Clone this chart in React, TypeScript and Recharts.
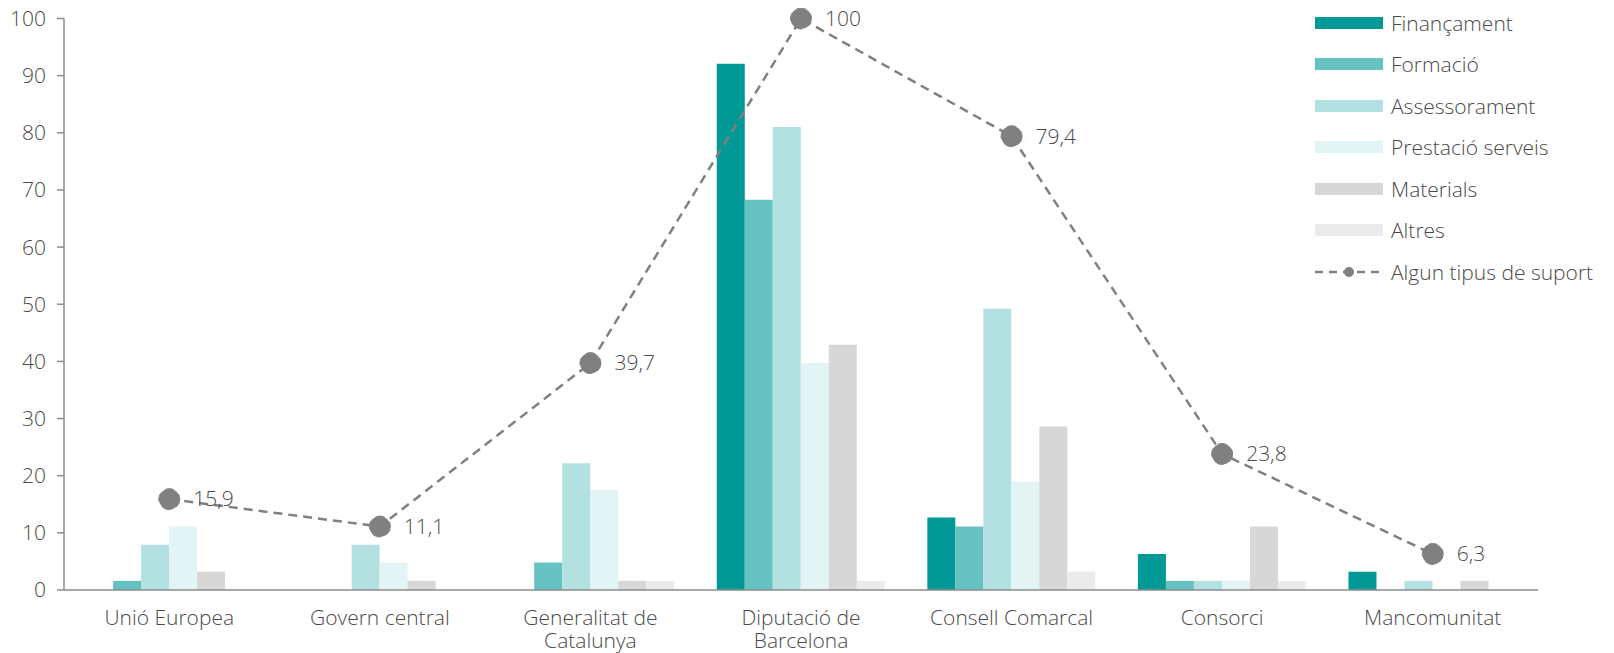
import React from "react";
import {
  ComposedChart,
  Bar,
  Line,
  XAxis,
  YAxis,
  LabelList,
} from "recharts";

const categories = [
  "Unió Europea",
  "Govern central",
  "Generalitat de Catalunya",
  "Diputació de Barcelona",
  "Consell Comarcal",
  "Consorci",
  "Mancomunitat",
];
const financament = [0, 0, 0, 92.1, 12.7, 6.3, 3.2];
const formacio = [1.6, 0, 4.8, 68.3, 11.1, 1.6, 0];
const assessorament = [7.9, 7.9, 22.2, 81.0, 49.2, 1.6, 1.6];
const prestacio = [11.1, 4.8, 17.5, 39.7, 19.0, 1.6, 0];
const materials = [3.2, 1.6, 1.6, 42.9, 28.6, 11.1, 1.6];
const altres = [0, 0, 1.6, 1.6, 3.2, 1.6, 0];
const algunTipus = [15.9, 11.1, 39.7, 100, 79.4, 23.8, 6.3];
const yTicks = [0, 10, 20, 30, 40, 50, 60, 70, 80, 90, 100];

const barSeries = [
  { key: "fin", name: "Finançament", color: "#009996", values: financament },
  { key: "form", name: "Formació", color: "#66c2c0", values: formacio },
  { key: "ass", name: "Assessorament", color: "#b3e0e0", values: assessorament },
  { key: "prest", name: "Prestació serveis", color: "#e3f4f4", values: prestacio },
  { key: "mat", name: "Materials", color: "#d7d7d7", values: materials },
  { key: "alt", name: "Altres", color: "#ebebeb", values: altres },
];
const lineName = "Algun tipus de suport";
const lineColor = "#808080";

const data = categories.map((c, i) => {
  const row: any = { cat: c, line: algunTipus[i] };
  barSeries.forEach((s) => (row[s.key] = s.values[i]));
  return row;
});

const FONT = "'Open Sans', 'Liberation Sans', sans-serif";
const TEXT = "#4a4a4a";
const FS = 21;

const XTick = (props: any) => {
  const { x, y, payload } = props;
  const words = String(payload.value).split(" ");
  const lines =
    String(payload.value).length > 18
      ? [words.slice(0, 2).join(" "), words.slice(2).join(" ")]
      : [String(payload.value)];
  return (
    <g>
      {lines.map((l, i) => (
        <text
          key={i}
          x={x}
          y={y + 33 + i * 23}
          textAnchor="middle"
          fill={TEXT}
          fontSize={FS}
          fontFamily={FONT}
          fontWeight={300}
        >
          {l}
        </text>
      ))}
    </g>
  );
};

const LineLabel = (props: any) => {
  const { x, y, value } = props;
  return (
    <text
      x={x + 24}
      y={y}
      dy="0.35em"
      fill={TEXT}
      fontSize={FS}
      fontFamily={FONT}
      fontWeight={300}
    >
      {String(value).replace(".", ",")}
    </text>
  );
};

const Legend = () => (
  <div
    style={{
      position: "absolute",
      left: 1315,
      top: 2,
      fontFamily: FONT,
      fontWeight: 300,
      fontSize: FS,
      color: TEXT,
    }}
  >
    {barSeries.map((s) => (
      <div key={s.key} style={{ display: "flex", alignItems: "center", height: 41.5, whiteSpace: "nowrap" }}>
        <div style={{ width: 68, height: 12, background: s.color, marginRight: 8 }} />
        <span>{s.name}</span>
      </div>
    ))}
    <div style={{ display: "flex", alignItems: "center", height: 41.5, whiteSpace: "nowrap" }}>
      <svg width={68} height={14} style={{ marginRight: 8 }}>
        <line x1={0} y1={7} x2={68} y2={7} stroke={lineColor} strokeWidth={2.5} strokeDasharray="8 6" />
        <circle cx={34} cy={7} r={5} fill={lineColor} />
      </svg>
      <span>{lineName}</span>
    </div>
  </div>
);

export default function App() {
  return (
    <div style={{ position: "relative", width: 1614, height: 653, margin: "-8px 0 0 -8px" }}>
      <ComposedChart
        width={1614}
        height={653}
        data={data}
        margin={{ top: 18.5, right: 76, left: 0, bottom: 0 }}
        barCategoryGap="10%"
        barGap={0}
      >
        <XAxis
          dataKey="cat"
          tick={<XTick />}
          tickLine={false}
          tickSize={0}
          axisLine={{ stroke: "#8c8c8c", strokeWidth: 1.5 }}
          height={63}
          interval={0}
        />
        <YAxis
          domain={[0, 100]}
          ticks={yTicks}
          width={64}
          tickSize={7}
          tickMargin={11}
          tickLine={{ stroke: "#8c8c8c", strokeWidth: 1.5 }}
          axisLine={{ stroke: "#8c8c8c", strokeWidth: 1.5 }}
          tick={{ fill: TEXT, fontSize: FS, fontFamily: FONT, fontWeight: 300 }}
          interval={0}
        />
        {barSeries.map((s) => (
          <Bar
            key={s.key}
            dataKey={s.key}
            name={s.name}
            fill={s.color}
            isAnimationActive={false}
          />
        ))}
        <Line
          dataKey="line"
          name={lineName}
          stroke={lineColor}
          strokeWidth={2.5}
          strokeDasharray="9 6"
          dot={{ r: 10.5, fill: lineColor, stroke: lineColor, strokeWidth: 1 }}
          activeDot={false}
          isAnimationActive={false}
        >
          <LabelList dataKey="line" content={<LineLabel />} />
        </Line>
      </ComposedChart>
      <Legend />
    </div>
  );
}
